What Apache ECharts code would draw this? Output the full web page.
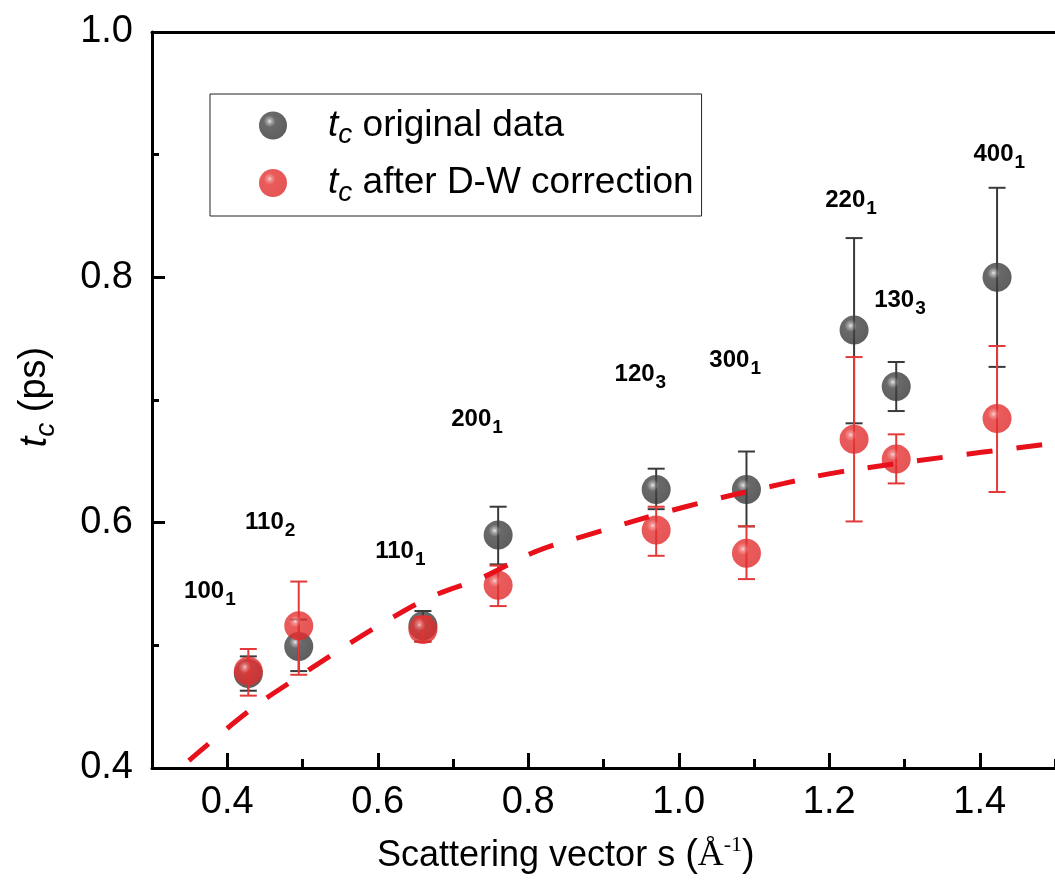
<!DOCTYPE html>
<html>
<head>
<meta charset="utf-8">
<script src="https://cdn.jsdelivr.net/npm/echarts@6/dist/echarts.min.js"></script>
<style>html,body{margin:0;padding:0;background:#fff}#c{width:1055px;height:884px}</style>
</head>
<body>
<div id="c"></div>
<script>
// ---- data ----
const xVals    = [0.428, 0.495, 0.660, 0.760, 0.970, 1.090, 1.233, 1.289, 1.423];
const origY    = [0.477, 0.499, 0.516, 0.590, 0.627, 0.627, 0.757, 0.711, 0.800];
const origLow  = [0.463, 0.479, 0.503, 0.566, 0.611, 0.597, 0.681, 0.691, 0.727];
const origHigh = [0.491, 0.521, 0.528, 0.613, 0.644, 0.658, 0.832, 0.731, 0.873];
const corrY    = [0.479, 0.516, 0.513, 0.549, 0.594, 0.575, 0.668, 0.652, 0.685];
const corrLow  = [0.459, 0.476, 0.503, 0.532, 0.573, 0.554, 0.601, 0.632, 0.625];
const corrHigh = [0.497, 0.552, 0.523, 0.565, 0.613, 0.597, 0.735, 0.672, 0.744];
const fitX = [0.349, 0.432, 0.489, 0.551, 0.612, 0.673, 0.738, 0.808, 0.874, 1.009, 1.140, 1.211, 1.360, 1.490];
const fitY = [0.406, 0.448, 0.472, 0.497, 0.520, 0.540, 0.555, 0.576, 0.589, 0.613, 0.632, 0.641, 0.654, 0.664];
const peakMain = ['100', '110', '110', '200', '120', '300', '220', '130', '400'];
const peakSub  = ['1', '2', '1', '1', '3', '1', '1', '3', '1'];
const peakLabelX = [0.342, 0.423, 0.596, 0.697, 0.914, 1.040, 1.194, 1.259, 1.391];
const peakLabelY = [0.544, 0.600, 0.577, 0.684, 0.721, 0.732, 0.863, 0.781, 0.900];
const xMajorTicks = [0.4, 0.6, 0.8, 1.0, 1.2, 1.4];
const xMinorTicks = [0.3, 0.5, 0.7, 0.9, 1.1, 1.3, 1.5];
const NAME_ORIG = 'tc original data';
const NAME_CORR = 'tc after D-W correction';
const legendText = {};
legendText[NAME_ORIG] = 'original data';
legendText[NAME_CORR] = 'after D-W correction';

const SANS = "'Liberation Sans', Arial, sans-serif";
const SERIF = "'Liberation Serif', 'Times New Roman', serif";

const chart = echarts.init(document.getElementById('c'), null, {renderer: 'canvas'});

const blackGrad = new echarts.graphic.RadialGradient(0.38, 0.35, 0.7, [
  {offset: 0, color: '#e8e8e8'}, {offset: 0.1, color: '#999999'},
  {offset: 0.3, color: '#444444'}, {offset: 1, color: '#353535'}]);
const redGrad = new echarts.graphic.RadialGradient(0.38, 0.35, 0.7, [
  {offset: 0, color: '#ffd4d4'}, {offset: 0.1, color: '#f07a7a'},
  {offset: 0.3, color: '#e43232'}, {offset: 1, color: '#e02a2a'}]);

function errRenderer(color) {
  return function (params, api) {
    const x = api.value(0);
    const lo = api.coord([x, api.value(1)]);
    const hi = api.coord([x, api.value(2)]);
    const h = 8.5;
    const st = {stroke: color, lineWidth: 2};
    return {type: 'group', children: [
      {type: 'line', shape: {x1: lo[0], y1: lo[1], x2: hi[0], y2: hi[1]}, style: st},
      {type: 'line', shape: {x1: hi[0] - h, y1: hi[1], x2: hi[0] + h, y2: hi[1]}, style: st},
      {type: 'line', shape: {x1: lo[0] - h, y1: lo[1], x2: lo[0] + h, y2: lo[1]}, style: st}
    ]};
  };
}

const axisLineStyle = {color: '#000', width: 3};

const option = {
  animation: false,
  backgroundColor: '#fff',
  grid: {left: 152, top: 32, right: -11, bottom: 116, containLabel: false},
  xAxis: [
    {type: 'value', min: 0.3, max: 1.5, position: 'bottom',
     axisLine: {show: true, onZero: false, lineStyle: axisLineStyle},
     axisTick: {show: true, inside: true, length: 15, customValues: xMajorTicks, lineStyle: {color: '#000', width: 3}},
     axisLabel: {show: true, customValues: xMajorTicks, formatter: v => v.toFixed(1), fontSize: 38, fontFamily: SANS, color: '#000', margin: 16},
     splitLine: {show: false}},
    {type: 'value', min: 0.3, max: 1.5, position: 'bottom',
     axisLine: {show: false},
     axisTick: {show: true, inside: true, length: 9, customValues: xMinorTicks, lineStyle: {color: '#000', width: 3}},
     axisLabel: {show: false}, splitLine: {show: false}},
    {type: 'value', min: 0.3, max: 1.5, position: 'top',
     axisLine: {show: true, onZero: false, lineStyle: axisLineStyle},
     axisTick: {show: false}, axisLabel: {show: false}, splitLine: {show: false}}
  ],
  yAxis: {
    type: 'value', min: 0.4, max: 1.0, interval: 0.2,
    axisLine: {show: true, onZero: false, lineStyle: axisLineStyle},
    axisTick: {show: true, inside: true, length: 13, lineStyle: {color: '#000', width: 3}},
    minorTick: {show: true, splitNumber: 2, length: 7, lineStyle: {color: '#000', width: 3}},
    axisLabel: {formatter: v => v.toFixed(1), fontSize: 38, fontFamily: SANS, color: '#000', margin: 19},
    splitLine: {show: false}
  },
  legend: {
    data: [NAME_ORIG, NAME_CORR],
    orient: 'vertical', left: 210, top: 94,
    padding: [13, 8, 9, 49], itemGap: 15, itemWidth: 28, itemHeight: 28,
    borderColor: '#222', borderWidth: 1, backgroundColor: '#fff',
    selectedMode: false,
    formatter: name => '{t|t}{c|c}{n| ' + legendText[name] + '}',
    textStyle: {
      color: '#000',
      rich: {
        t: {fontFamily: SANS, fontSize: 37, fontStyle: 'italic', lineHeight: 48, padding: [0, 0, 0, 36]},
        c: {fontFamily: SANS, fontSize: 28, fontStyle: 'italic', lineHeight: 20, verticalAlign: 'bottom'},
        n: {fontFamily: SANS, fontSize: 37, lineHeight: 48}
      }
    }
  },
  graphic: [
    {type: 'text', x: 377, y: 856, silent: true,
     style: {text: '{a|Scattering vector s }{p|(}{s|Å}{u|-1}{p|)}', textAlign: 'left', textVerticalAlign: 'middle',
       rich: {
         a: {fontFamily: SANS, fontSize: 36, lineHeight: 44, fill: '#000'},
         p: {fontFamily: SANS, fontSize: 38, lineHeight: 44, fill: '#000'},
         s: {fontFamily: SERIF, fontSize: 36, lineHeight: 44, fill: '#000'},
         u: {fontFamily: SERIF, fontSize: 22, lineHeight: 22, verticalAlign: 'top', fill: '#000'}
       }}},
    {type: 'text', x: 35, y: 397, rotation: Math.PI / 2, silent: true,
     style: {text: '{t|t}{c|c}{n| (ps)}', textAlign: 'center', textVerticalAlign: 'middle',
       rich: {
         t: {fontFamily: SANS, fontSize: 38, fontStyle: 'italic', lineHeight: 50, fill: '#000'},
         c: {fontFamily: SANS, fontSize: 28, fontStyle: 'italic', lineHeight: 20, verticalAlign: 'bottom', fill: '#000'},
         n: {fontFamily: SANS, fontSize: 38, lineHeight: 50, fill: '#000'}
       }}}
  ],
  series: [
    {type: 'custom', name: 'errOrig', xAxisIndex: 0, renderItem: errRenderer('#3a3a3a'),
     encode: {x: 0, y: [1, 2]}, silent: true, z: 2,
     data: xVals.map((x, i) => [x, origLow[i], origHigh[i]])},
    {type: 'scatter', name: NAME_ORIG, xAxisIndex: 0, symbol: 'circle', symbolSize: 29, z: 3,
     itemStyle: {color: blackGrad}, data: xVals.map((x, i) => [x, origY[i]])},
    {type: 'custom', name: 'errCorr', xAxisIndex: 0, renderItem: errRenderer('#e23a3a'),
     encode: {x: 0, y: [1, 2]}, silent: true, z: 4,
     data: xVals.map((x, i) => [x, corrLow[i], corrHigh[i]])},
    {type: 'scatter', name: NAME_CORR, xAxisIndex: 0, symbol: 'circle', symbolSize: 29, z: 5,
     itemStyle: {color: redGrad}, data: xVals.map((x, i) => [x, corrY[i]])},
    {type: 'line', name: 'fit', xAxisIndex: 0, showSymbol: false, smooth: 0.4, z: 6, silent: true,
     lineStyle: {color: '#e8101a', width: 5, type: [26, 24]},
     data: fitX.map((x, i) => [x, fitY[i]])},
    {type: 'scatter', name: 'labels', xAxisIndex: 0, symbolSize: 1, silent: true, z: 7,
     itemStyle: {color: 'rgba(0,0,0,0)'},
     label: {show: true, position: 'right', distance: 0, color: '#000', opacity: 1,
       rich: {
         a: {fontFamily: SANS, fontSize: 24, fontWeight: 'bold', lineHeight: 36, color: '#000'},
         b: {fontFamily: SANS, fontSize: 19, fontWeight: 'bold', lineHeight: 14, verticalAlign: 'bottom', padding: [0, 0, 0, 1], color: '#000'}
       }},
     data: peakLabelX.map((x, i) => ({value: [x, peakLabelY[i]],
       label: {formatter: '{a|' + peakMain[i] + '}{b|' + peakSub[i] + '}'}}))}
  ]
};
chart.setOption(option);
</script>
</body>
</html>
